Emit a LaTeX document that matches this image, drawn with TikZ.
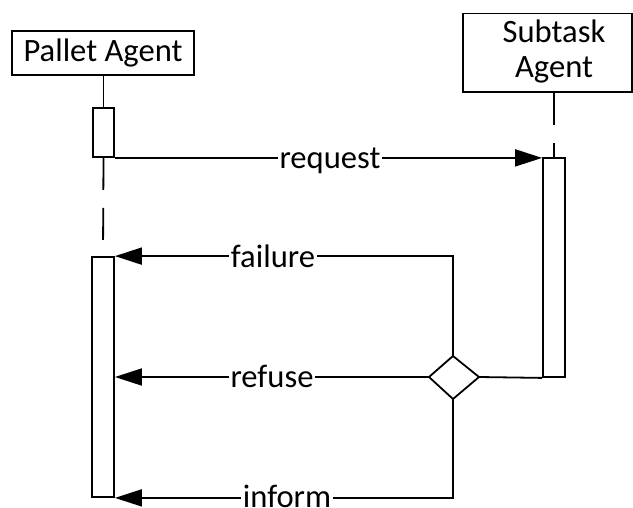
\documentclass[tikz,border=0pt]{standalone}
\usepackage{fontspec}
\setmainfont{Carlito}
\usetikzlibrary{arrows.meta}
\begin{document}
\begin{tikzpicture}[x=1pt,y=-1pt,
  every node/.style={font=\fontsize{32.6}{35.5}\selectfont},
  line/.style={line width=1.8pt, black},
  agent/.style={line, draw, rectangle, inner sep=0pt, align=center},
  act/.style={line, draw, fill=white, rectangle, inner sep=0pt},
  lifeline/.style={line, dash pattern=on 32pt off 18pt},
  msg/.style={line, -{Triangle[length=27pt,width=17pt]}},
  lbl/.style={fill=white, inner xsep=2pt, inner ysep=0pt, anchor=base}
]
\clip (0,0) rectangle (633,507);
\fill[white] (0,0) rectangle (633,507);

% agents
\node[agent, minimum width=182pt, minimum height=44pt] (pallet) at (103,53) {Pallet Agent};
\node[agent, minimum width=169pt, minimum height=78.5pt] (subtask) at (547.5,52.75) {};
\node[anchor=base] at (554,42) {Subtask};
\node[anchor=base] at (554,77) {Agent};

% activation bars
\node[act, minimum width=21pt, minimum height=49pt] (pact1) at (103.5,132.5) {};
\node[act, minimum width=22pt, minimum height=219pt] (sact) at (554,267.5) {};
\node[act, minimum width=22pt, minimum height=240pt] (pact2) at (103,377) {};

% lifelines
\draw[lifeline] (pallet.south -| pact1.north) -- (pact1.north);
\draw[lifeline] (pact1.south) -- (pact2.north);
\draw[lifeline] (subtask.south -| sact.north) -- (sact.north);

% decision diamond
\coordinate (dn) at (453,356);
\coordinate (ds) at (453,399);
\coordinate (dw) at (429,377);
\coordinate (de) at (479,377);
\draw[line, fill=white, line join=miter] (dn) -- (de) -- (ds) -- (dw) -- cycle;

% request
\draw[msg] (pact1.south east) -- (pact1.south east -| sact.west);
\node[lbl] at (330,168) {request};

% reply from subtask bar into decision
\draw[line] (sact.south west) -- (de);

% replies
\draw[msg] (dn) |- (pact2.north east);
\node[lbl] at (273,267) {failure};
\draw[msg] (dw) -- (dw -| pact2.east);
\node[lbl] at (272,387) {refuse};
\draw[msg] (ds) |- (pact2.south east);
\node[lbl] at (287,507) {inform};
\end{tikzpicture}
\end{document}
